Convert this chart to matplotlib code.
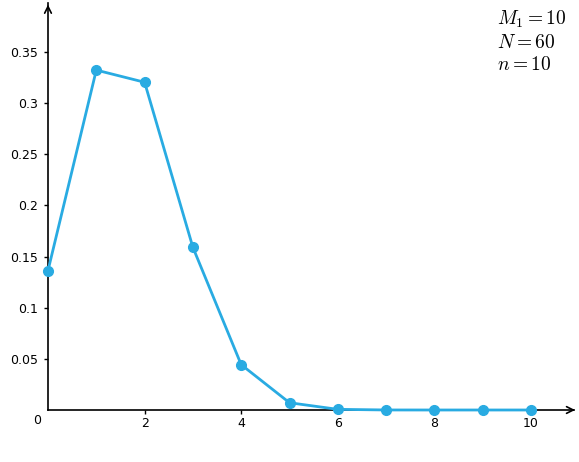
import matplotlib
matplotlib.use("Agg")
import matplotlib.pyplot as plt

k = [0, 1, 2, 3, 4, 5, 6, 7, 8, 9, 10]
prob = [0.1363, 0.3323, 0.3204, 0.1590, 0.0443, 0.0071, 0.00064, 0.00003, 0.0, 0.0, 0.0]
xticks = [2, 4, 6, 8, 10]
yticks = [0.05, 0.1, 0.15, 0.2, 0.25, 0.3, 0.35]
ytick_labels = ["0.05", "0.1", "0.15", "0.2", "0.25", "0.3", "0.35"]
params = ['$M_1 = 10$', '$N = 60$', '$n = 10$']

plt.rcParams['mathtext.fontset'] = 'cm'
W, H = 579, 462
fig = plt.figure(figsize=(W/100, H/100), dpi=100)
ax = fig.add_axes([0, 0, 1, 1])
ax.set_xlim(-48/48.3, 531/48.3)
ax.set_ylim(-52/1022.9, 410/1022.9)

for s in ['top', 'right']:
    ax.spines[s].set_visible(False)
ax.spines['left'].set_position(('data', 0))
ax.spines['bottom'].set_position(('data', 0))
ax.spines['left'].set_bounds(0, 0.398)
ax.spines['bottom'].set_bounds(0, 10.9)
for s in ['left', 'bottom']:
    ax.spines[s].set_linewidth(1.2)

ax.annotate('', xy=(0, 0.399), xytext=(0, 0.39),
            arrowprops=dict(arrowstyle='->', lw=1.2, color='black', mutation_scale=12))
ax.annotate('', xy=(10.97, 0), xytext=(10.8, 0),
            arrowprops=dict(arrowstyle='->', lw=1.2, color='black', mutation_scale=12))

ax.set_xticks(xticks)
ax.set_xticklabels([str(v) for v in xticks])
ax.set_yticks(yticks)
ax.set_yticklabels(ytick_labels)
ax.tick_params(axis='both', direction='out', length=3, width=1, labelsize=9, pad=2)
ax.tick_params(axis='y', pad=4)
ax.text(-0.23, -0.004, '0', ha='center', va='top', fontsize=9)

ax.plot(k, prob, color='#29abe2', lw=2, marker='o', markersize=7, clip_on=False, zorder=5)

for i, (t, yp) in enumerate(zip(params, [19, 42, 64])):
    fig.text(497/W, 1 - yp/H, t, fontsize=14, ha='left', va='center')

fig.savefig('out.png', dpi=100)
